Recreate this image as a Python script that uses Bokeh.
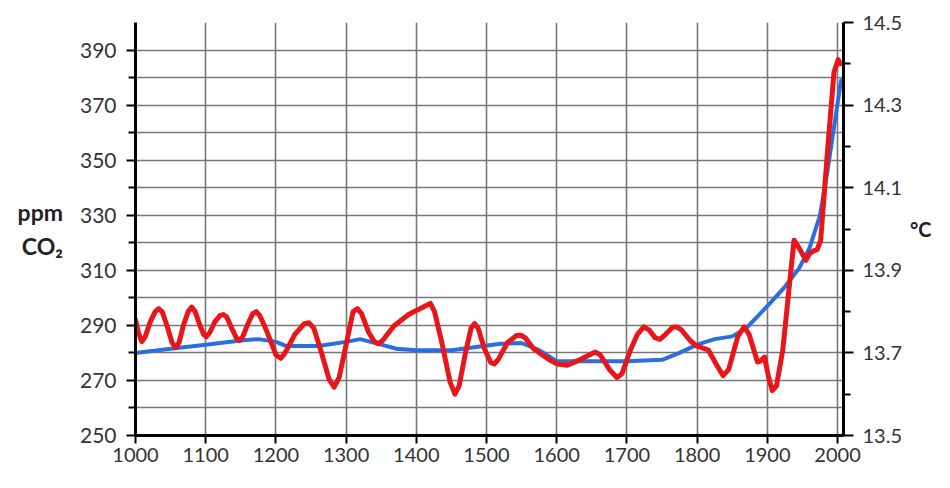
from bokeh.plotting import figure
from bokeh.models import (Range1d, LinearAxis, FixedTicker, PrintfTickFormatter)
from bokeh.embed import file_html
from bokeh.resources import INLINE

# ---- data ----
co2_years = [1000, 1050, 1100, 1150, 1175, 1200, 1215, 1260, 1300, 1320, 1350, 1372,
             1400, 1450, 1480, 1520, 1550, 1575, 1600, 1650, 1700, 1750, 1775, 1800,
             1825, 1850, 1870, 1900, 1925, 1945, 1960, 1975, 1985, 1995, 2005]
co2_ppm = [280, 281.5, 283, 284.5, 285, 284, 282.5, 282.5, 284, 285, 283, 281.5,
           281, 281, 282, 283.3, 283.6, 281, 277, 277, 277, 277.5, 280, 283,
           285, 286, 289, 297, 304, 310.6, 318, 330, 345, 362, 379]

temp_years = [1000, 1004, 1009, 1014, 1021, 1028, 1033, 1038, 1045, 1052, 1057, 1062,
              1068, 1075, 1080, 1085, 1091, 1097, 1101, 1106, 1113, 1120, 1125, 1130,
              1137, 1144, 1148, 1153, 1160, 1167, 1172, 1177, 1184, 1191, 1200, 1207,
              1213, 1227, 1240, 1247, 1254, 1265, 1276, 1283, 1290, 1300, 1310, 1316,
              1322, 1332, 1340, 1346, 1352, 1368, 1389, 1410, 1420, 1426, 1437, 1448,
              1455, 1461, 1470, 1478, 1483, 1488, 1497, 1506, 1511, 1517, 1530, 1543,
              1549, 1556, 1567, 1577, 1590, 1601, 1615, 1635, 1655, 1662, 1675, 1686,
              1693, 1705, 1715, 1724, 1732, 1740, 1747, 1755, 1765, 1771, 1778, 1790,
              1799, 1816, 1828, 1837, 1845, 1858, 1867, 1874, 1886, 1890, 1896, 1902,
              1907, 1913, 1922, 1930, 1938, 1945, 1955, 1960, 1966, 1971, 1976, 1985,
              1995, 2001, 2004]
temp_c = [13.78, 13.75, 13.727, 13.74, 13.775, 13.80, 13.807, 13.80, 13.765, 13.725, 13.713, 13.725,
          13.765, 13.80, 13.811, 13.80, 13.77, 13.745, 13.739, 13.75, 13.775, 13.79, 13.793, 13.787,
          13.76, 13.735, 13.73, 13.74, 13.77, 13.795, 13.80, 13.79, 13.765, 13.735, 13.695, 13.687,
          13.70, 13.745, 13.77, 13.773, 13.76, 13.70, 13.635, 13.617, 13.64, 13.72, 13.80, 13.807,
          13.795, 13.75, 13.728, 13.722, 13.73, 13.765, 13.793, 13.811, 13.82, 13.80, 13.72, 13.63,
          13.60, 13.62, 13.70, 13.76, 13.771, 13.76, 13.71, 13.677, 13.673, 13.685, 13.725, 13.742,
          13.743, 13.735, 13.71, 13.698, 13.683, 13.673, 13.67, 13.685, 13.702, 13.695, 13.66, 13.64,
          13.65, 13.707, 13.745, 13.763, 13.755, 13.737, 13.733, 13.745, 13.762, 13.763, 13.755, 13.73,
          13.717, 13.707, 13.67, 13.645, 13.66, 13.74, 13.763, 13.745, 13.678, 13.68, 13.69, 13.64,
          13.609, 13.62, 13.707, 13.84, 13.973, 13.955, 13.924, 13.94, 13.947, 13.95, 13.973, 14.173,
          14.38, 14.41, 14.40]

x_ticks = [1000, 1100, 1200, 1300, 1400, 1500, 1600, 1700, 1800, 1900, 2000]
ppm_ticks = [250, 270, 290, 310, 330, 350, 370, 390]
ppm_minor = [260, 280, 300, 320, 340, 360, 380]
ppm_grid = [260, 270, 280, 290, 300, 310, 320, 330, 340, 350, 360, 370, 380, 390, 400]
temp_ticks = [13.5, 13.7, 13.9, 14.1, 14.3, 14.5]
temp_minor = [13.6, 13.8, 14.0, 14.2, 14.4]

FONT = "Lato"
TXT = "#333333"

p = figure(width=934, height=472, output_backend="svg", toolbar_location=None,
           x_range=Range1d(1000, 2008.5), y_range=Range1d(250, 400),
           min_border_left=135, min_border_right=86, min_border_top=22, min_border_bottom=37)
p.extra_y_ranges = {"temp": Range1d(13.5, 14.5)}
p.outline_line_color = None
p.background_fill_color = "white"
p.border_fill_color = "white"

# grids
p.xgrid.ticker = FixedTicker(ticks=x_ticks)
p.ygrid.ticker = FixedTicker(ticks=ppm_grid)
for g in (p.xgrid, p.ygrid):
    g.grid_line_color = "#777777"
    g.grid_line_width = 1.6

# bottom axis
xa = p.xaxis[0]
xa.ticker = FixedTicker(ticks=x_ticks)
xa.axis_line_width = 3
xa.axis_line_color = "black"
xa.major_tick_line_width = 2
xa.major_tick_out = 8
xa.major_tick_in = 0
xa.minor_tick_line_color = None
xa.major_label_text_font = FONT
xa.major_label_text_font_size = "20px"
xa.major_label_text_color = TXT
xa.major_label_standoff = 4

# left axis
ya = p.yaxis[0]
ya.ticker = FixedTicker(ticks=ppm_ticks, minor_ticks=ppm_minor)
ya.axis_line_width = 3
ya.axis_line_color = "black"
ya.major_tick_line_width = 2
ya.minor_tick_line_width = 2
ya.minor_tick_line_color = "black"
ya.major_tick_out = 9
ya.major_tick_in = 0
ya.minor_tick_out = 7
ya.minor_tick_in = 0
ya.major_label_text_font = FONT
ya.major_label_text_font_size = "21px"
ya.major_label_text_color = TXT
ya.major_label_standoff = 10
ya.axis_label = "ppm\nCO₂"
ya.axis_label_orientation = "horizontal"
ya.axis_label_text_font = FONT
ya.axis_label_text_font_style = "bold"
ya.axis_label_text_font_size = "23px"
ya.axis_label_text_color = "#222222"
ya.axis_label_standoff = 14

# right axis
ra = LinearAxis(y_range_name="temp",
                ticker=FixedTicker(ticks=temp_ticks, minor_ticks=temp_minor),
                formatter=PrintfTickFormatter(format="%.1f"))
ra.axis_line_width = 3
ra.axis_line_color = "black"
ra.major_tick_line_width = 2
ra.minor_tick_line_width = 2
ra.minor_tick_line_color = "black"
ra.major_tick_out = 10
ra.major_tick_in = 0
ra.minor_tick_out = 7
ra.minor_tick_in = 0
ra.major_label_text_font = FONT
ra.major_label_text_font_size = "20px"
ra.major_label_text_color = TXT
ra.major_label_standoff = 9
ra.axis_label = "°C"
ra.axis_label_orientation = "horizontal"
ra.axis_label_text_font = FONT
ra.axis_label_text_font_style = "bold"
ra.axis_label_text_font_size = "20px"
ra.axis_label_text_color = "#222222"
ra.axis_label_standoff = 5
p.add_layout(ra, "right")

# lines
p.line(co2_years, co2_ppm, line_color="#2a6ee0", line_width=4, line_join="round", line_cap="round")
p.line(temp_years, temp_c, y_range_name="temp", line_color="#e8161b", line_width=5,
       line_join="round", line_cap="round")

open("out.html", "w").write(file_html(p, INLINE))
